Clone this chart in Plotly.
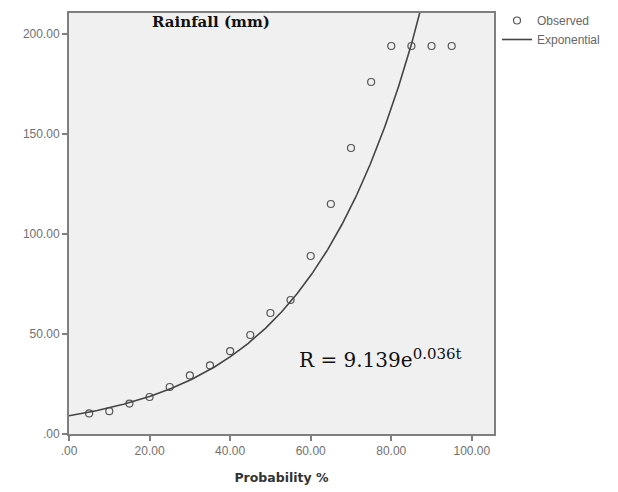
import numpy as np
import plotly.graph_objects as go

# Observed data
prob = [5, 10, 15, 20, 25, 30, 35, 40, 45, 50, 55, 60, 65, 70, 75, 80, 85, 90, 95]
rain = [10.3, 11.4, 15.2, 18.5, 23.5, 29.3, 34.3, 41.4, 49.5, 60.5, 67.0, 89.0,
        115.0, 143.0, 176.0, 194.0, 194.0, 194.0, 194.0]

# Exponential fit coefficients (from the chart's equation)
fit_a = 9.139
fit_b = 0.036

x_ticks = [0, 20, 40, 60, 80, 100]
x_ticklabels = [".00", "20.00", "40.00", "60.00", "80.00", "100.00"]
y_ticks = [0, 50, 100, 150, 200]
y_ticklabels = [".00", "50.00", "100.00", "150.00", "200.00"]

t = np.linspace(0, 100, 401)
fit = fit_a * np.exp(fit_b * t)

fig = go.Figure()
fig.add_trace(go.Scatter(
    x=prob, y=rain, mode="markers", name="Observed",
    marker=dict(symbol="circle-open", size=7, color="#555555", line=dict(width=1.2)),
))
fig.add_trace(go.Scatter(
    x=t, y=fit, mode="lines", name="Exponential",
    line=dict(color="#444444", width=1.6),
))

axis_common = dict(
    showgrid=False, zeroline=False, showline=True, linecolor="#7f7f7f", linewidth=2,
    mirror=True, ticks="outside", ticklen=5, tickcolor="#7f7f7f", tickwidth=1.5,
    tickfont=dict(family="Liberation Sans, Arial", size=12, color="#707070"),
)

L, R, T, B = 69, 124, 13, 58
pw = 618 - L - R
ph = 492 - T - B

fig.update_layout(
    width=618, height=492,
    margin=dict(l=L, r=R, t=T, b=B, autoexpand=False),
    paper_bgcolor="white", plot_bgcolor="#f0f0f0",
    xaxis=dict(range=[0, 105.5], tickvals=x_ticks, ticktext=x_ticklabels,
               title=dict(text="<b>Probability %</b>",
                          font=dict(family="DejaVu Sans", size=12.5, color="#333333"),
                          standoff=16),
               **axis_common),
    yaxis=dict(range=[0, 210.5], tickvals=y_ticks, ticktext=y_ticklabels, **axis_common),
    legend=dict(x=497 / 618, y=1 - 6 / 492, xref="container", yref="container",
                xanchor="left", yanchor="top",
                font=dict(family="Liberation Sans, Arial", size=12, color="#666666"),
                bgcolor="rgba(0,0,0,0)", tracegroupgap=0, itemwidth=30),
    showlegend=True,
    annotations=[
        dict(text="<b>Rainfall (mm)</b>", x=(211 - L) / pw, y=(434 - 22) / ph,
             xref="paper", yref="paper", xanchor="center", yanchor="middle",
             showarrow=False, font=dict(family="DejaVu Serif", size=15, color="#111111")),
        dict(text="R = 9.139e<sup><span style='font-size:15px'>0.036t</span></sup>",
             x=(297 - L) / pw, y=(434 - 358) / ph,
             xref="paper", yref="paper", xanchor="left", yanchor="middle",
             showarrow=False, font=dict(family="DejaVu Serif", size=20, color="#111111")),
    ],
)

fig.write_html("out.html")
